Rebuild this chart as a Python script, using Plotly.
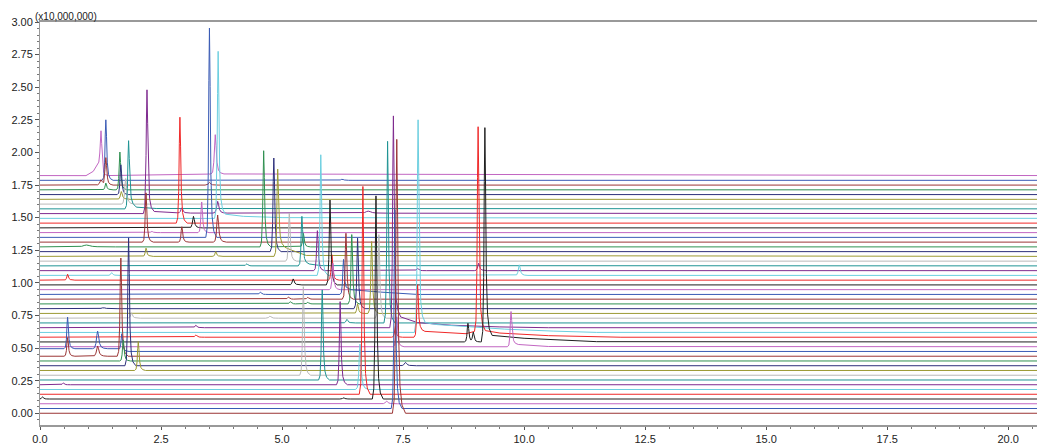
import numpy as np
import plotly.graph_objects as go

# ---------------- data ----------------
N_TRACES = 51                 # stacked chromatograms, bottom (0) to top (50)
OFFSET = 0.03645              # vertical offset between traces, x10,000,000
X_END = 20.76                 # minutes shown

X_TICKS = [0.0, 2.5, 5.0, 7.5, 10.0, 12.5, 15.0, 17.5, 20.0]
Y_TICKS = [0.00, 0.25, 0.50, 0.75, 1.00, 1.25, 1.50, 1.75, 2.00, 2.25, 2.50, 2.75, 3.00]

# peak table: trace index, retention time (min), apex value (x10^7), relative width
PEAK_TRACE = [0, 1, 2,
              3, 3, 3,
              4, 5, 6, 6, 7, 8, 9,
              10, 10, 11,
              12, 12, 12,
              13, 13, 13,
              14, 14,
              15, 15, 15,
              16, 16, 16, 16,
              17, 18, 18,
              19, 19,
              20, 20, 20,
              21, 21, 22, 22,
              23, 23, 23,
              24, 24, 24,
              25, 25, 26,
              27, 27, 28, 28,
              29, 29, 29,
              30, 30, 30,
              31, 31, 32,
              33, 33, 33,
              34, 35, 35, 35,
              36, 36, 36,
              37, 38, 38, 39, 40, 41,
              42, 42, 42, 42,
              43, 44, 45, 46, 47, 47,
              48, 48, 48,
              49, 49,
              50, 50]
PEAK_RT = [7.37, 7.33, 7.16,
           0.05, 6.27, 6.94,
           6.67, 6.61, 0.48, 6.20, 5.83, 5.44, 2.03,
           1.83, 7.55, 1.72,
           0.57, 1.19, 1.67,
           0.57, 1.19, 1.69,
           7.37, 9.73,
           8.84, 8.95, 9.19,
           3.22, 7.34, 7.80, 9.05,
           7.81, 3.22, 7.30,
           6.34, 7.18,
           1.89, 4.75, 7.00,
           6.56, 6.85, 1.31, 6.56,
           5.17, 5.53, 6.44,
           5.13, 5.53, 6.32,
           4.55, 6.27, 6.05,
           5.23, 5.99, 0.57, 6.03,
           1.48, 5.80, 9.90,
           5.73, 7.80, 9.06,
           4.27, 5.41, 5.15,
           2.19, 3.63, 4.91,
           4.83, 0.96, 4.62, 5.44,
           2.19, 2.93, 3.67,
           3.50, 2.31, 3.34, 3.17, 2.89, 3.68,
           2.21, 2.93, 3.67, 6.78,
           1.83, 1.77, 1.68, 1.67, 1.36, 1.65,
           1.26, 1.36, 3.50,
           1.36, 6.24,
           1.26, 3.62]
PEAK_APEX = [2.10, 1.56, 0.093,
             0.125, 0.12, 1.667,
             1.739, 0.53, 0.232, 0.856, 0.946, 0.97, 0.55,
             1.345, 0.39, 0.56,
             0.58, 0.516, 1.19,
             0.737, 0.63, 0.61,
             0.74, 0.78,
             0.69, 0.62, 2.19,
             0.60, 0.665, 0.985, 2.197,
             2.25, 0.675, 2.28,
             0.72, 2.085,
             0.77, 0.745, 1.37,
             0.84, 1.317, 0.81, 1.343,
             0.855, 0.85, 1.37,
             0.89, 0.888, 1.38,
             0.928, 1.18, 1.15,
             1.03, 1.635, 1.066, 1.215,
             1.078, 1.982, 1.138,
             1.40, 1.11, 1.15,
             1.145, 1.51, 1.535,
             1.266, 1.24, 1.872,
             1.957, 1.29, 2.013, 1.38,
             1.69, 1.43, 1.52,
             2.954, 1.395, 1.62, 1.51, 2.27, 2.775,
             2.48, 1.575, 1.625, 1.55,
             2.09, 1.80, 1.70, 1.905, 1.765, 2.003,
             1.79, 1.957, 1.77,
             2.25, 1.795,
             2.166, 2.136]
PEAK_WIDTH = [1.2, 1.0, 1.5,
              1.0, 1.0, 1.0,
              1.0, 1.2, 1.0, 1.0, 1.0, 1.0, 1.0,
              1.0, 1.5, 1.0,
              1.0, 1.4, 1.0,
              1.0, 1.4, 1.0,
              1.0, 1.0,
              1.0, 1.0, 1.0,
              1.2, 1.0, 1.0, 1.0,
              1.0, 1.2, 1.0,
              1.2, 1.0,
              1.2, 1.2, 1.0,
              1.0, 1.0, 2.0, 1.0,
              1.2, 1.2, 1.0,
              1.2, 1.2, 1.0,
              1.2, 1.0, 1.0,
              1.2, 1.0, 1.0, 1.0,
              1.2, 1.0, 1.2,
              1.0, 1.2, 1.2,
              1.2, 1.0, 1.0,
              1.0, 1.0, 1.0,
              1.0, 4.0, 1.0, 1.0,
              1.0, 1.0, 1.2,
              1.0, 1.2, 1.0, 1.2, 1.0, 1.0,
              1.0, 1.2, 1.3, 3.0,
              1.0, 1.2, 1.2, 1.0, 1.0, 1.0,
              1.5, 1.0, 1.2,
              1.0, 1.5,
              1.0, 1.2]

# baseline knots (drifts / tails), trace index, time, level
TAIL_TRACE = [13, 13, 13,
              14, 14, 14,
              15, 15, 15, 15,
              16, 16, 16, 16, 16, 16, 16,
              17, 17, 17, 17, 17, 17, 17,
              18, 18, 18, 18, 18, 18,
              25, 25, 25, 25,
              31, 31, 31,
              33, 33, 33, 33,
              41, 41, 41, 41,
              42, 42, 42, 42,
              43, 43, 43, 43,
              50, 50, 50, 50, 50, 50]
TAIL_RT = [0.0, 1.60, 1.75,
           9.70, 9.78, 10.5,
           9.15, 9.25, 10.0, 11.5,
           7.77, 7.86, 8.8, 9.1, 9.5, 10.5, 12.0,
           7.78, 7.86, 8.2, 8.8, 9.6, 10.6, 11.5,
           7.26, 7.40, 7.8, 8.5, 9.5, 10.5,
           6.24, 6.35, 7.0, 7.8,
           5.38, 5.46, 5.8,
           4.88, 4.95, 5.2, 5.5,
           3.66, 3.75, 4.2, 5.0,
           2.19, 2.26, 2.6, 3.0,
           1.80, 1.88, 2.0, 2.4,
           0.95, 1.10, 1.18, 1.25, 1.31, 3.70]
TAIL_LEVEL = [0.495, 0.495, 0.474,
              0.510, 0.53, 0.512,
              0.547, 0.60, 0.575, 0.549,
              0.583, 0.63, 0.61, 0.64, 0.615, 0.595, 0.583,
              0.620, 0.70, 0.68, 0.665, 0.645, 0.63, 0.620,
              0.656, 0.745, 0.695, 0.675, 0.662, 0.656,
              0.911, 0.95, 0.93, 0.911,
              1.130, 1.15, 1.132,
              1.203, 1.29, 1.25, 1.21,
              1.494, 1.53, 1.51, 1.50,
              1.531, 1.55, 1.54, 1.535,
              1.567, 1.60, 1.58, 1.57,
              1.822, 1.855, 1.905, 1.92, 1.822, 1.835]

# ---------------- styles ----------------
COLORS = ["#9b3535", "#3a5bb5", "#c266c2", "#1e1e1e", "#f02828", "#6ccfe0",
          "#7f2a8f", "#1f9494", "#b9b9b9", "#9c9a34", "#2c2f7a", "#2f9050"]
# normalised peak profile used to draw each tabulated peak
PROFILE_DX = np.array([-0.075, -0.045, -0.025, -0.012, 0.0, 0.014, 0.03, 0.055, 0.09, 0.15])
PROFILE_F = np.array([0.0, 0.05, 0.3, 0.75, 1.0, 0.72, 0.3, 0.1, 0.03, 0.0])


def build_trace(i):
    base = i * OFFSET
    kx = [TAIL_RT[k] for k in range(len(TAIL_TRACE)) if TAIL_TRACE[k] == i]
    ky = [TAIL_LEVEL[k] for k in range(len(TAIL_TRACE)) if TAIL_TRACE[k] == i]
    if not kx or min(kx) > 0.01:
        kx = [0.0] + kx
        ky = [base] + ky
    if max(kx) < X_END:
        kx = kx + [X_END]
        ky = ky + [base]
    order = np.argsort(kx)
    kx = np.array(kx)[order]
    ky = np.array(ky)[order]
    peaks = [k for k in range(len(PEAK_TRACE)) if PEAK_TRACE[k] == i]
    xs = set(kx.tolist())
    for k in peaks:
        for v in PEAK_RT[k] + PROFILE_DX * PEAK_WIDTH[k]:
            if 0 <= v <= X_END:
                xs.add(round(float(v), 5))
    X = np.array(sorted(xs))
    Y = np.interp(X, kx, ky)
    for k in peaks:
        rt = PEAK_RT[k]
        h = PEAK_APEX[k] - np.interp(rt, kx, ky)
        Y = Y + h * np.interp(X, rt + PROFILE_DX * PEAK_WIDTH[k], PROFILE_F, left=0, right=0)
    return X, Y


fig = go.Figure()
for i in range(N_TRACES - 1, -1, -1):
    X, Y = build_trace(i)
    fig.add_trace(go.Scatter(x=X, y=Y, mode="lines",
                             line=dict(color=COLORS[i % len(COLORS)], width=1),
                             hoverinfo="skip", showlegend=False))

# the page body adds an 8 px margin, so the figure is sized/positioned to compensate
axis_font = dict(family="Liberation Sans, Arial, sans-serif", size=11, color="#222")
fig.update_layout(
    width=1037, height=436,
    margin=dict(l=32, r=0, t=14, b=19, autoexpand=False),
    plot_bgcolor="white", paper_bgcolor="white",
    showlegend=False,
    xaxis=dict(range=[0, X_END], tickmode="array", tickvals=X_TICKS,
               ticktext=[f"{v:.1f}" for v in X_TICKS], automargin=False,
               ticks="outside", ticklen=3, tickcolor="#555", tickfont=axis_font,
               minor=dict(dtick=0.5, tick0=0, ticks="outside", ticklen=2, tickcolor="#777"),
               showline=True, linecolor="#999", linewidth=1.5, mirror=True,
               showgrid=False, zeroline=False),
    yaxis=dict(range=[-0.09, 3.0], tickmode="array", tickvals=Y_TICKS,
               ticktext=[f"{v:.2f}" for v in Y_TICKS], automargin=False,
               ticks="outside", ticklen=4, tickcolor="#555", tickfont=axis_font,
               minor=dict(dtick=0.05, tick0=0, ticks="outside", ticklen=2, tickcolor="#777"),
               showline=True, linecolor="#999", linewidth=1,
               showgrid=False, zeroline=False),
    annotations=[dict(text="(x10,000,000)", xref="paper", yref="paper", x=0, y=1,
                      xanchor="left", yanchor="bottom", xshift=-7, yshift=-2,
                      showarrow=False,
                      font=dict(family="Liberation Sans, Arial, sans-serif", size=10, color="#222"))],
)

fig.write_html("out.html")
